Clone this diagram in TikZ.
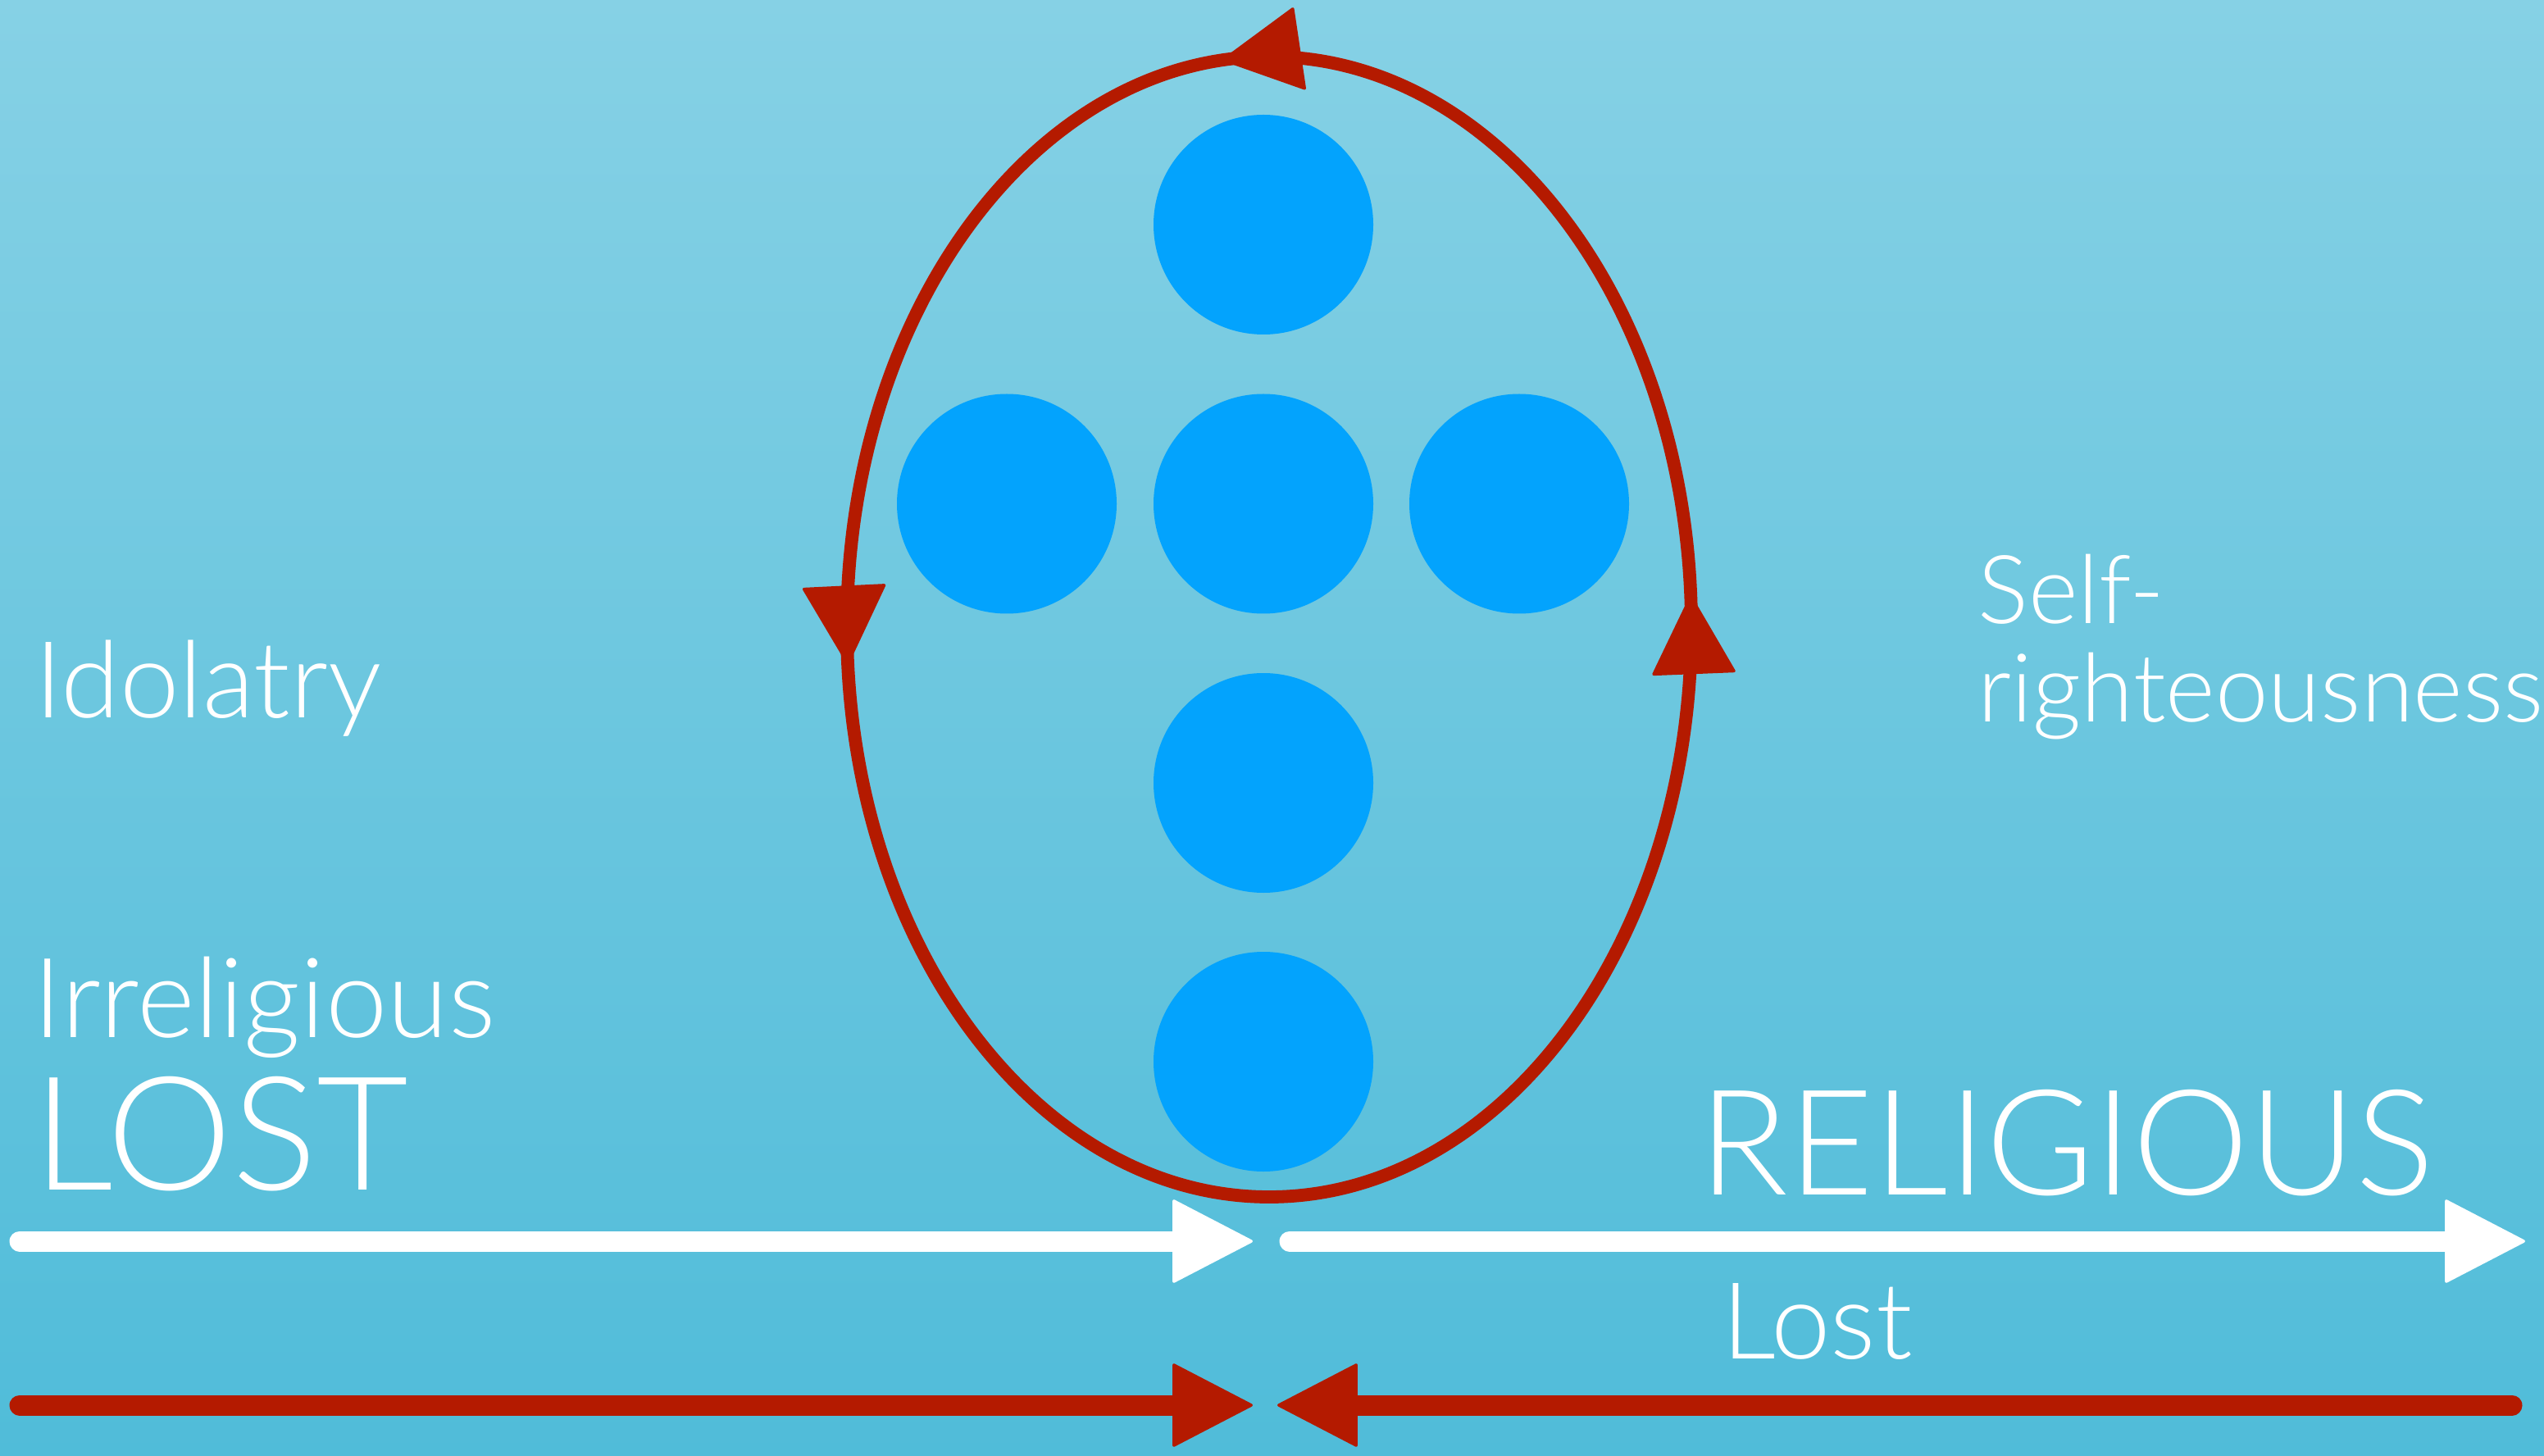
\documentclass[tikz,border=0pt]{standalone}
\usepackage{fontspec}
\setmainfont{Lato Light}
\usetikzlibrary{arrows.meta,decorations.markings}

\definecolor{bgtop}{RGB}{134,209,229}
\definecolor{bgbot}{RGB}{80,188,217}
\definecolor{dotblue}{RGB}{3,163,253}
\definecolor{brushred}{RGB}{180,26,0}

\tikzset{
  bluedot/.style={circle,fill=dotblue,minimum size=2.68cm,inner sep=0pt},
  word/.style={text=white,anchor=base west,inner sep=0pt},
  bighead/.style={-{Triangle[length=1cm,width=1.03cm,round,line width=1pt]}},
  brushline/.style={line width=0.25cm,line cap=round,bighead},
  ringhead/.tip={Triangle[length=0.98cm,width=1.03cm,round,line width=1pt]},
}

\begin{document}
\begin{tikzpicture}
\useasboundingbox (0.000,0.000) rectangle (31.030,-17.760);
\shade[top color=bgtop,bottom color=bgbot] (0.000,0.000) rectangle (31.030,-17.760);

% the five dots
\node[bluedot] (top) at (15.410,-2.740) {};
\node[bluedot] (left) at (12.280,-6.145) {};
\node[bluedot] (mid) at (15.410,-6.145) {};
\node[bluedot] (right) at (18.530,-6.145) {};
\node[bluedot] (low) at (15.410,-9.550) {};
\node[bluedot] (foot) at (15.410,-12.950) {};

% the red ring
\coordinate (ringc) at (15.480,-7.645);
\draw[brushred,line width=4.5pt,postaction={decorate},
  decoration={markings,
    mark=at position 0.010 with {\arrow{ringhead}},
    mark=at position 0.265 with {\arrow{ringhead}},
    mark=at position 0.512 with {\arrow{ringhead}}}]
  (ringc) ellipse [x radius=5.150,y radius=6.955];

% labels
\node[word,font=\fontsize{37}{40}\selectfont] (idolatry) at (0.420,-8.750) {Idolatry};
\node[word,font=\fontsize{33}{34.4}\selectfont,align=left] (selfright) at (24.120,-8.810) {Self-\\righteousness};
\node[word,font=\fontsize{38.5}{40}\selectfont] (irrelig) at (0.400,-12.650) {Irreligious};
\node[word,font=\fontsize{55}{60}\selectfont] (lostbig) at (0.400,-14.510) {LOST};
\node[word,font=\fontsize{51}{56}\selectfont] (relig) at (20.720,-14.570) {RELIGIOUS};
\node[word,font=\fontsize{37}{40}\selectfont] (lostsmall) at (21.000,-16.570) {Lost};

% white arrows
\coordinate (wa0) at (0.240,-15.140);
\coordinate (wa1) at (15.280,-15.140);
\coordinate (wb0) at (15.730,-15.140);
\coordinate (wb1) at (30.800,-15.140);
\draw[brushline,white] (wa0) -- (wa1);
\draw[brushline,white] (wb0) -- (wb1);

% red arrows
\coordinate (ra0) at (0.240,-17.140);
\coordinate (ra1) at (15.280,-17.140);
\coordinate (rb0) at (30.640,-17.140);
\coordinate (rb1) at (15.580,-17.140);
\draw[brushline,brushred] (ra0) -- (ra1);
\draw[brushline,brushred] (rb0) -- (rb1);
\end{tikzpicture}
\end{document}
